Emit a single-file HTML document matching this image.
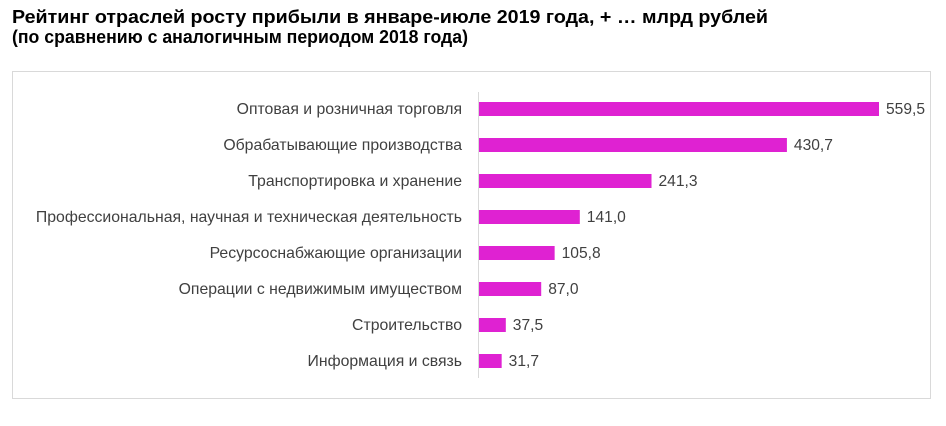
<!DOCTYPE html>
<html><head><meta charset="utf-8"><style>
body{margin:0;background:#fff;width:946px;height:426px;overflow:hidden;font-family:"Liberation Sans",sans-serif}
</style></head><body>
<svg id="c" width="946" height="426" style="position:absolute;left:0;top:0" font-family="Liberation Sans, sans-serif">
<text x="12" y="23" font-size="18" font-weight="bold" textLength="756" lengthAdjust="spacingAndGlyphs">Рейтинг отраслей росту прибыли в январе-июле 2019 года, + … млрд рублей</text>
<text x="12" y="43" font-size="18" font-weight="bold" textLength="456" lengthAdjust="spacingAndGlyphs">(по сравнению с аналогичным периодом 2018 года)</text>
<rect x="12.5" y="71.5" width="918" height="327" fill="none" stroke="#d9d9d9"/>
<line x1="478.5" y1="92" x2="478.5" y2="378" stroke="#d9d9d9"/>
</svg>
<script>
const categories=["Оптовая и розничная торговля","Обрабатывающие производства","Транспортировка и хранение","Профессиональная, научная и техническая деятельность","Ресурсоснабжающие организации","Операции с недвижимым имуществом","Строительство","Информация и связь"];
const values=[559.5,430.7,241.3,141.0,105.8,87.0,37.5,31.7];
const valueLabels=["559,5","430,7","241,3","141,0","105,8","87,0","37,5","31,7"];
const svg=document.getElementById('c');const NS='http://www.w3.org/2000/svg';
const x0=479,scale=(879-479)/559.5;
const xs=v=>x0+v*scale;
const ys=i=>109+i*36;
categories.forEach((c,i)=>{
const r=document.createElementNS(NS,'rect');


r.setAttribute('x',x0);r.setAttribute('y',ys(i)-7);r.setAttribute('width',xs(values[i])-x0);r.setAttribute('height',14);r.setAttribute('fill','#df22d2');
svg.appendChild(r);
const t=document.createElementNS(NS,'text');


t.setAttribute('x',462);t.setAttribute('y',ys(i)+5);t.setAttribute('text-anchor','end');t.setAttribute('font-size','15.8');t.setAttribute('fill','#404040');
t.textContent=c;svg.appendChild(t);
const v=document.createElementNS(NS,'text');


v.setAttribute('x',xs(values[i])+7);v.setAttribute('y',ys(i)+5);v.setAttribute('font-size','15.6');v.setAttribute('fill','#404040');
v.textContent=valueLabels[i];svg.appendChild(v);
});
</script>
</body></html>
